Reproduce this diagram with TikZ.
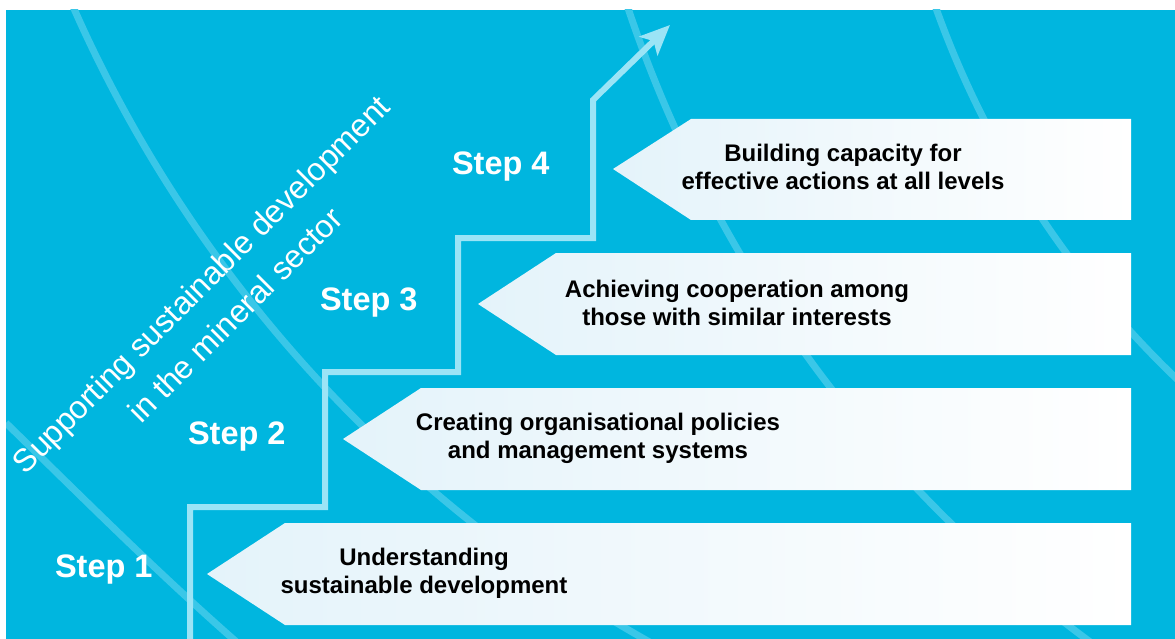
\documentclass[tikz,border=0pt]{standalone}
\usepackage{fontspec}
\setmainfont{Liberation Sans}
\usetikzlibrary{arrows.meta}
\definecolor{bgblue}{RGB}{0,182,223}
\definecolor{arcblue}{RGB}{58,199,232}
\definecolor{stairblue}{RGB}{155,228,246}
\definecolor{boxleft}{RGB}{228,243,250}

\begin{document}
\begin{tikzpicture}[x=1pt, y=-1pt, every node/.style={inner sep=0pt, outer sep=0pt}]
\tikzset{steplabel/.style={anchor=base west, text=white, font=\fontsize{32.5}{38}\selectfont\bfseries},
  boxtext/.style={align=center, text=black, font=\fontsize{24}{28}\selectfont\bfseries},
  sidetext/.style={anchor=base, rotate=45, text=white, font=\fontsize{32}{40}\selectfont},
  stepbox/.style={left color=boxleft, right color=white, draw=none},
  bgarc/.style={draw=arcblue, line width=7pt}}
\useasboundingbox (0,0) rectangle (1175,639);
\fill[bgblue] (6,10) rectangle (1175,639);
\begin{scope}
\clip (6,10) rectangle (1175,639);
\draw[bgarc] (1312,-538) circle[radius=1353pt];
\draw[bgarc] (1861,-405) circle[radius=1300pt];
\draw[bgarc] (1842,-316) circle[radius=962pt];
\draw[bgarc] (6,423) .. controls (90,505) and (160,575) .. (240,645);
\end{scope}
\shade[stepbox] (207,574) -- (285,523) -- (1131,523) -- (1131,625) -- (285,625) -- cycle;
\shade[stepbox] (343,439) -- (421,388) -- (1131,388) -- (1131,490) -- (421,490) -- cycle;
\shade[stepbox] (478,304) -- (556,253) -- (1131,253) -- (1131,355) -- (556,355) -- cycle;
\shade[stepbox] (613,169) -- (691,119) -- (1131,119) -- (1131,220) -- (691,220) -- cycle;
\coordinate (foot) at (190,645);
\coordinate (tip) at (670,25);
\draw[stairblue, line width=6pt, -{Stealth[length=30pt,width=26pt,inset=7pt]}]
  (foot) |- (325,507) |- (458,372) |- (593,238) -- (593,100) -- (tip);
\node[steplabel] (s1) at (55,577) {Step 1};
\node[steplabel] (s2) at (188,444) {Step 2};
\node[steplabel] (s3) at (320,310) {Step 3};
\node[steplabel] (s4) at (452,175) {Step 4};
\node[boxtext] (b1) at (424,573) {Understanding\\sustainable development};
\node[boxtext] (b2) at (598,438) {Creating organisational policies\\and management systems};
\node[boxtext] (b3) at (737,303) {Achieving cooperation among\\those with similar interests};
\node[boxtext] (b4) at (843,167) {Building capacity for\\effective actions at all levels};
\node[sidetext] (t1) at (209,292) {Supporting sustainable development};
\node[sidetext] (t2) at (243,323) {in the mineral sector};
\end{tikzpicture}
\end{document}
